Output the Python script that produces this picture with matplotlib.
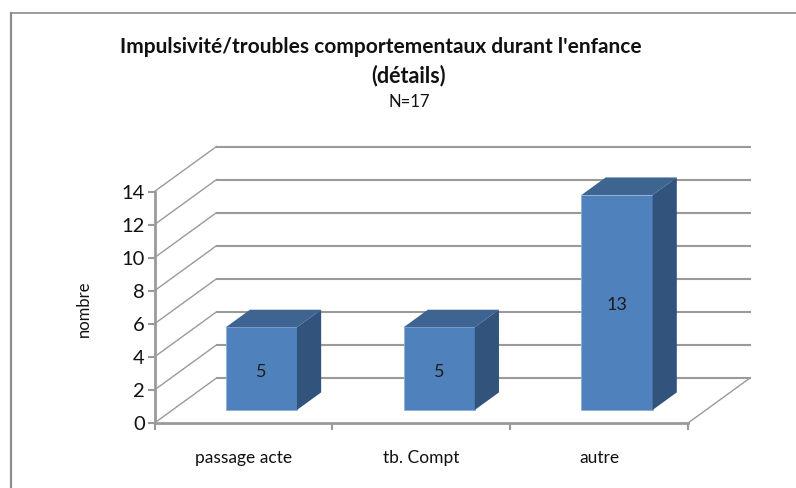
import matplotlib
matplotlib.use("Agg")
import matplotlib.pyplot as plt
from matplotlib.patches import Polygon, Rectangle
from matplotlib.transforms import Affine2D

# donnees
categories = ["passage acte", "tb. Compt", "autre"]
valeurs = [5, 5, 13]
graduations = [0, 2, 4, 6, 8, 10, 12, 14]
titre = "Impulsivité/troubles comportementaux durant l'enfance"
titre2 = "(détails)"
sous_titre = "N=17"
axe_y = "nombre"

W, H = 796, 488
plt.rcParams["font.family"] = ["Lato", "DejaVu Sans"]

fig = plt.figure(figsize=(W / 100, H / 100), dpi=100)
fig.patch.set_facecolor("white")

# cadre exterieur : seulement le haut et la gauche sont visibles
gris_cadre = "#8c8c8c"
fig.add_artist(plt.Line2D([11 / W, 1], [1 - 12.5 / H, 1 - 12.5 / H], color=gris_cadre, lw=1.2))
fig.add_artist(plt.Line2D([11 / W, 11 / W], [0, 1 - 12.5 / H], color=gris_cadre, lw=1.6))

# plan avant de l'axe, le reste est decale en pixels (fausse 3D)
x0, x1, y0, y14 = 154.5, 688, 423, 191.5
ax = fig.add_axes([x0 / W, 1 - y0 / H, (x1 - x0) / W, (y0 - y14) / H])
ax.set_xlim(0, len(categories))
ax.set_ylim(0, 14)
ax.patch.set_visible(False)
for s in ax.spines.values():
    s.set_visible(False)


def decale(frac):
    # frac = 0 devant, 1 au fond de la boite
    return ax.transData + Affine2D().translate(62 * frac, 45 * frac)


gris = "#9a9a9a"
n = len(categories)

# quadrillage : fond + paroi gauche
for g in graduations:
    ax.plot([0, n], [g, g], transform=decale(1), color=gris, lw=1.5, clip_on=False, zorder=1)
    p1 = decale(0).transform((0, g))
    p2 = decale(1).transform((0, g))
    fig.add_artist(plt.Line2D([p1[0] / W, p2[0] / W], [p1[1] / H, p2[1] / H], color=gris, lw=1, zorder=1))

# bord droit du plancher
p1 = decale(0).transform((n, 0))
p2 = decale(1).transform((n, 0))
fig.add_artist(plt.Line2D([p1[0] / W, p2[0] / W], [p1[1] / H, p2[1] / H], color=gris, lw=1, zorder=1))

# axes avant
ax.plot([0, n], [0, 0], color=gris, lw=2, clip_on=False, zorder=2)
ax.plot([0, 0], [0, 14], color=gris, lw=2, clip_on=False, zorder=2)

# barres
largeur = 0.4
av, ar = 0.29, 0.68
for i, v in enumerate(valeurs):
    xa = i + 0.5 - largeur / 2
    xb = i + 0.5 + largeur / 2
    ax.add_patch(Rectangle((xa, 0), largeur, v, transform=decale(av), facecolor="#4f81bd",
                           edgecolor="#8fb0d8", linewidth=0.6, clip_on=False, zorder=5))
    # dessus et cote : memes coins pris a deux profondeurs
    A = decale(av).transform([(xa, v), (xb, v)])
    B = decale(ar).transform([(xb, v), (xa, v)])
    ax.add_patch(Polygon([A[0], A[1], B[0], B[1]], closed=True, transform=None, facecolor="#3e6491",
                         edgecolor="none", clip_on=False, zorder=5))
    C = decale(av).transform([(xb, v), (xb, 0)])
    D = decale(ar).transform([(xb, 0), (xb, v)])
    ax.add_patch(Polygon([C[0], C[1], D[0], D[1]], closed=True, transform=None, facecolor="#32547c",
                         edgecolor="none", clip_on=False, zorder=5))
    ctr = decale(av).transform((i + 0.5, v / 2))
    fig.text(ctr[0] / W, (ctr[1] - 3) / H, str(v), ha="center", va="center", fontsize=13,
             color="#1c1c1c", zorder=10)

# graduations
ax.set_yticks(graduations)
ax.set_xticks(range(n + 1))
ax.set_xticklabels([])
ax.tick_params(axis="y", length=5, width=1.5, color=gris, labelsize=14.5, pad=2, direction="out")
ax.tick_params(axis="x", length=5, width=1.5, color=gris)
for lab in ax.get_yticklabels():
    lab.set_color("#111111")
    lab.set_verticalalignment("center")
    lab.set_transform(lab.get_transform() + Affine2D().translate(0, -2))

for i, c in enumerate(categories):
    ax.text(i + 0.5, -2.13, c, ha="center", va="center",
            fontsize=12.5, color="#111111", clip_on=False)

ax.text(-0.395, 6.9, axe_y, rotation=90, ha="center", va="center", fontsize=12, color="#111111")

fig.text(381 / W, 1 - 47 / H, titre, ha="center", va="center", fontsize=15,
         fontweight="bold", color="#111111")
fig.text(409 / W, 1 - 76 / H, titre2, ha="center", va="center", fontsize=15.5,
         fontweight="bold", color="#111111")
fig.text(409 / W, 1 - 102 / H, sous_titre, ha="center", va="center", fontsize=12, color="#111111")

fig.savefig("out.png", dpi=100)
